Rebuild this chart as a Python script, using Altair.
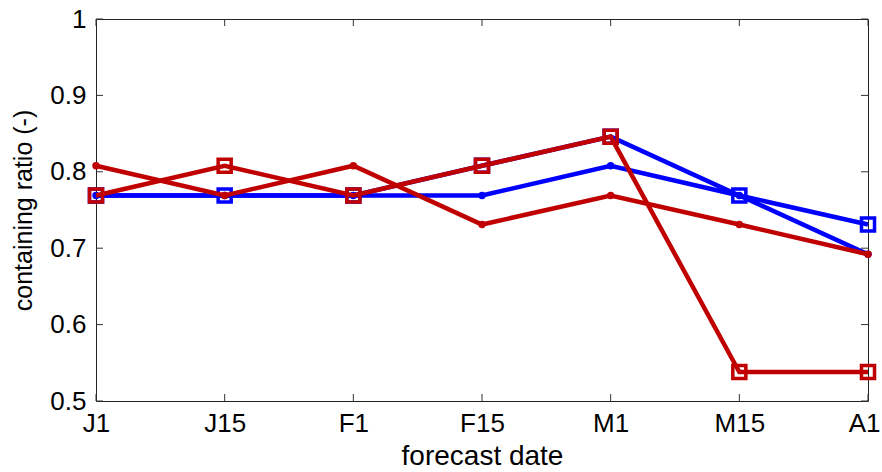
import altair as alt
import pandas as pd

# Forecast issue dates (1st / 15th of Jan, Feb, Mar, Apr 1)
dates = ["J1", "J15", "F1", "F15", "M1", "M15", "A1"]

# Containing ratio for each forecast configuration
blue_dot = [0.769, 0.769, 0.769, 0.769, 0.808, 0.769, 0.692]
blue_sq = [0.769, 0.769, 0.769, 0.808, 0.846, 0.769, 0.731]
red_dot = [0.808, 0.769, 0.808, 0.731, 0.769, 0.731, 0.692]
red_sq = [0.769, 0.808, 0.769, 0.808, 0.846, 0.538, 0.538]

y_ticks = [0.5, 0.6, 0.7, 0.8, 0.9, 1.0]

BLUE = "#0000FF"
RED = "#C00000"
W, H = 772, 382
TICK = 7
FONT = "Liberation Sans"

x_enc = alt.X(
    "date:N",
    sort=dates,
    scale=alt.Scale(type="point", padding=0),
    axis=alt.Axis(
        title="forecast date", labelAngle=0, labelPadding=9,
        titlePadding=6, titleFontSize=28,
        # keep the last label inside the canvas
        labelAlign={"condition": {"test": "datum.value == 'A1'", "value": "right"},
                    "value": "center"},
        labelOffset={"condition": {"test": "datum.value == 'A1'", "value": 12},
                     "value": 0},
    ),
)
y_enc = alt.Y(
    "value:Q",
    scale=alt.Scale(domain=[0.5, 1.0], nice=False, zero=False),
    axis=alt.Axis(title="containing ratio (-)", values=y_ticks,
                  format=".1~f", labelPadding=10, titlePadding=13,
                  titleFontSize=25),
)


def series(values, color, marker):
    df = pd.DataFrame({"date": dates, "value": values})
    base = alt.Chart(df).encode(x=x_enc, y=y_enc)
    line = base.mark_line(color=color, strokeWidth=4.5)
    if marker == "dot":
        pts = base.mark_point(shape="circle", filled=True, color=color,
                              size=55, opacity=1)
    else:
        pts = base.mark_point(shape="square", filled=False, color=color,
                              size=170, strokeWidth=3.5, opacity=1)
    return line + pts


# Inward-pointing tick marks on all four sides of the box
ytick_df = pd.DataFrame({"value": y_ticks})
xtick_df = pd.DataFrame({"date": dates})

ticks_left = alt.Chart(ytick_df).mark_rule(color="#333333", strokeWidth=1).encode(
    y=y_enc, x=alt.value(0), x2=alt.value(TICK))
ticks_right = alt.Chart(ytick_df).mark_rule(color="#333333", strokeWidth=1).encode(
    y=y_enc, x=alt.value(W - TICK), x2=alt.value(W))
ticks_bottom = alt.Chart(xtick_df).mark_rule(color="#333333", strokeWidth=1).encode(
    x=x_enc, y=alt.value(H - TICK), y2=alt.value(H))
ticks_top = alt.Chart(xtick_df).mark_rule(color="#333333", strokeWidth=1).encode(
    x=x_enc, y=alt.value(0), y2=alt.value(TICK))

chart = alt.layer(
    ticks_left, ticks_right, ticks_bottom, ticks_top,
    series(blue_dot, BLUE, "dot"),
    series(blue_sq, BLUE, "square"),
    series(red_dot, RED, "dot"),
    series(red_sq, RED, "square"),
).properties(
    width=W,
    height=H,
    padding={"left": 96, "top": 19, "right": 14, "bottom": 71},
    autosize=alt.AutoSizeParams(type="none"),
    background="white",
).configure_view(
    stroke="#222222", strokeWidth=1
).configure_axis(
    ticks=False, domain=False, grid=False,
    labelFont=FONT, labelFontSize=26, labelColor="black",
    titleFont=FONT, titleColor="black",
    titleFontWeight="normal",
)

chart.save("out.html", embed_options={"renderer": "svg", "actions": False})
